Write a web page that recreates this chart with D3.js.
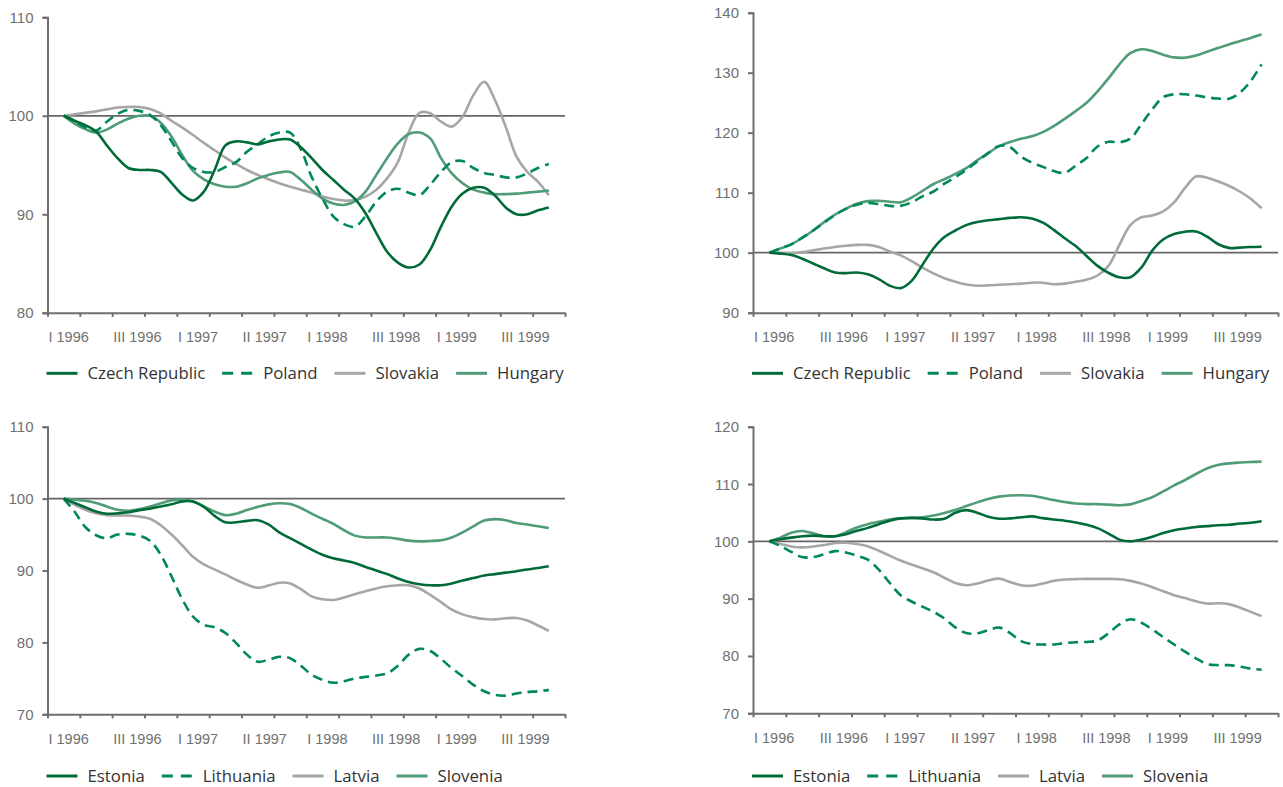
<!DOCTYPE html>
<html>
<head>
<meta charset="utf-8">
<script src="https://cdn.jsdelivr.net/npm/d3@7"></script>
<style>
body { margin: 0; background: #fff; }
svg { display: block; }
.ticklabel { font-family: "Liberation Sans", Arial, sans-serif; fill: #707070; }
.legend text { font-family: "Open Sans", sans-serif; font-size: 16.8px; fill: #333; }
</style>
</head>
<body>
<svg id="chart" width="1283" height="787"></svg>
<script>
// months Feb 1996 .. Nov 1999 (3-month centred averages), index 100 = start
var months = d3.timeMonth.range(new Date(1996, 1, 1), new Date(1999, 11, 1));
var quarterTicks = d3.range(0, 49, 3);
var xLabels = ["I 1996", "III 1996", "I 1997", "II 1997", "I 1998", "III 1998", "I 1999", "III 1999"];

// top left
var czechA = [100, 99.5, 99.05, 98.4, 97.0, 95.7, 94.7, 94.5, 94.5, 94.3, 93.2, 92.0, 91.4, 92.3, 94.5, 97.0, 97.4, 97.3, 97.1, 97.4, 97.6, 97.6, 96.8, 95.7, 94.5, 93.5, 92.5, 91.6, 90.1, 88.1, 86.2, 85.1, 84.6, 84.9, 86.4, 88.75, 90.8, 92.1, 92.7, 92.7, 91.9, 90.7, 90.0, 90.0, 90.4, 90.7];
var polandA = [100, 99.5, 98.8, 98.5, 99.4, 100.2, 100.6, 100.5, 100.1, 99.05, 97.4, 95.7, 94.7, 94.3, 94.3, 94.8, 95.3, 96.35, 97.1, 97.9, 98.3, 98.3, 96.6, 93.8, 91.6, 89.8, 89.0, 88.75, 89.8, 91.3, 92.3, 92.6, 92.2, 91.95, 93.0, 94.3, 95.3, 95.4, 94.7, 94.2, 94.0, 93.75, 93.75, 94.15, 94.7, 95.1];
var slovakiaA = [100, 100.15, 100.3, 100.45, 100.65, 100.85, 100.9, 100.9, 100.7, 100.25, 99.5, 98.8, 98.05, 97.25, 96.5, 95.75, 95.1, 94.5, 94.0, 93.55, 93.15, 92.8, 92.5, 92.2, 91.8, 91.55, 91.4, 91.45, 91.8, 92.5, 93.65, 95.3, 98.3, 100.3, 100.25, 99.4, 98.9, 99.9, 102.1, 103.45, 101.6, 98.9, 95.85, 94.3, 93.3, 91.95];
var hungaryA = [100, 99.2, 98.65, 98.3, 98.6, 99.2, 99.7, 100.0, 100.0, 99.3, 97.9, 96.0, 94.4, 93.55, 93.05, 92.8, 92.8, 93.15, 93.65, 94.0, 94.25, 94.3, 93.5, 92.5, 91.6, 91.1, 90.95, 91.3, 92.3, 94.0, 95.7, 97.2, 98.15, 98.3, 97.7, 95.7, 94.15, 93.15, 92.5, 92.2, 92.05, 92.05, 92.1, 92.2, 92.3, 92.4];

// top right
var czechB = [100, 99.85, 99.6, 99.0, 98.2, 97.4, 96.7, 96.6, 96.7, 96.4, 95.6, 94.5, 94.1, 95.3, 98.0, 100.7, 102.6, 103.7, 104.6, 105.1, 105.4, 105.6, 105.8, 105.9, 105.7, 105.0, 103.8, 102.4, 101.1, 99.45, 97.8, 96.65, 95.9, 95.9, 97.5, 100.35, 102.2, 103.1, 103.5, 103.55, 102.7, 101.45, 100.8, 100.85, 100.95, 101.0];
var polandB = [100, 100.7, 101.4, 102.5, 103.7, 105.0, 106.3, 107.3, 108.0, 108.3, 108.1, 107.8, 107.8, 108.4, 109.4, 110.2, 111.5, 112.6, 113.8, 115.2, 116.6, 117.8, 117.6, 116.0, 115.0, 114.3, 113.6, 113.3, 114.5, 115.8, 117.7, 118.5, 118.4, 119.0, 121.4, 123.9, 125.9, 126.4, 126.4, 126.2, 125.9, 125.7, 125.65, 126.65, 128.6, 131.4];
var slovakiaB = [100, 99.95, 99.9, 100.1, 100.4, 100.7, 100.95, 101.15, 101.3, 101.3, 100.95, 100.2, 99.55, 98.6, 97.5, 96.55, 95.75, 95.15, 94.7, 94.5, 94.55, 94.65, 94.75, 94.85, 95.0, 95.0, 94.75, 94.85, 95.15, 95.5, 96.2, 97.8, 101.3, 104.6, 105.9, 106.2, 106.9, 108.4, 110.8, 112.7, 112.5, 111.9, 111.15, 110.2, 109.0, 107.4];
var hungaryB = [100, 100.7, 101.4, 102.45, 103.7, 105.1, 106.35, 107.35, 108.15, 108.6, 108.65, 108.5, 108.4, 109.2, 110.3, 111.45, 112.25, 113.15, 114.1, 115.4, 116.6, 117.75, 118.45, 119.0, 119.4, 120.1, 121.1, 122.3, 123.6, 125.0, 126.9, 129.05, 131.4, 133.25, 133.9, 133.6, 133.0, 132.55, 132.5, 132.85, 133.5, 134.1, 134.7, 135.25, 135.8, 136.4];

// bottom left
var estoniaA = [100, 99.4, 98.8, 98.2, 97.9, 97.95, 98.1, 98.4, 98.6, 98.9, 99.2, 99.6, 99.6, 98.85, 97.6, 96.7, 96.7, 96.9, 97.0, 96.4, 95.3, 94.5, 93.7, 92.9, 92.2, 91.7, 91.4, 91.05, 90.5, 90.0, 89.5, 88.9, 88.4, 88.1, 87.95, 87.95, 88.2, 88.6, 88.95, 89.3, 89.5, 89.7, 89.9, 90.15, 90.35, 90.6];
var lithuaniaA = [100, 98.2, 96.05, 94.9, 94.5, 95.0, 95.1, 94.85, 94.15, 92.2, 89.2, 86.0, 83.6, 82.45, 82.1, 81.3, 79.9, 78.3, 77.3, 77.6, 78.0, 77.8, 76.75, 75.5, 74.8, 74.4, 74.6, 75.0, 75.2, 75.4, 75.7, 76.75, 78.3, 79.1, 78.8, 77.7, 76.4, 75.3, 74.1, 73.2, 72.7, 72.6, 72.9, 73.1, 73.2, 73.4];
var latviaA = [100, 99.15, 98.45, 97.95, 97.7, 97.65, 97.65, 97.5, 97.2, 96.3, 95.0, 93.5, 91.9, 90.85, 90.15, 89.45, 88.7, 88.05, 87.6, 87.9, 88.3, 88.2, 87.4, 86.4, 86.0, 85.9, 86.25, 86.7, 87.1, 87.5, 87.8, 87.95, 87.95, 87.5, 86.6, 85.6, 84.55, 83.9, 83.5, 83.25, 83.2, 83.35, 83.4, 83.05, 82.35, 81.6];
var sloveniaA = [100, 99.85, 99.7, 99.4, 98.9, 98.45, 98.3, 98.5, 98.9, 99.35, 99.75, 99.85, 99.6, 98.9, 98.2, 97.7, 97.9, 98.4, 98.85, 99.2, 99.35, 99.25, 98.7, 97.9, 97.2, 96.5, 95.6, 94.85, 94.6, 94.6, 94.6, 94.4, 94.15, 94.05, 94.1, 94.2, 94.6, 95.3, 96.15, 96.95, 97.15, 97.0, 96.6, 96.4, 96.15, 95.9];

// bottom right
var estoniaB = [100, 100.35, 100.65, 100.9, 101.0, 100.9, 100.9, 101.25, 101.85, 102.35, 103.0, 103.6, 104.0, 104.1, 104.0, 103.8, 103.95, 105.0, 105.45, 105.0, 104.3, 103.95, 104.0, 104.2, 104.35, 104.05, 103.8, 103.6, 103.3, 102.9, 102.3, 101.35, 100.3, 100.0, 100.3, 100.8, 101.45, 101.95, 102.25, 102.5, 102.65, 102.8, 102.9, 103.1, 103.25, 103.5];
var lithuaniaB = [100, 99.2, 98.15, 97.25, 97.25, 97.75, 98.3, 98.05, 97.5, 96.8, 95.05, 92.75, 90.6, 89.5, 88.6, 87.7, 86.55, 85.0, 84.0, 83.95, 84.5, 84.95, 84.0, 82.6, 82.1, 82.0, 82.0, 82.25, 82.4, 82.45, 82.7, 83.95, 85.5, 86.4, 85.8, 84.65, 83.3, 82.0, 80.75, 79.6, 78.6, 78.4, 78.4, 78.15, 77.8, 77.6];
var latviaB = [100, 99.55, 99.1, 98.95, 99.1, 99.35, 99.7, 99.75, 99.55, 99.15, 98.35, 97.5, 96.65, 95.95, 95.3, 94.6, 93.65, 92.75, 92.35, 92.65, 93.15, 93.5, 92.9, 92.35, 92.25, 92.65, 93.1, 93.35, 93.4, 93.45, 93.45, 93.45, 93.4, 93.1, 92.65, 92.0, 91.3, 90.6, 90.1, 89.55, 89.15, 89.2, 89.05, 88.45, 87.7, 86.95];
var sloveniaB = [100, 100.65, 101.5, 101.8, 101.4, 100.9, 100.85, 101.6, 102.4, 103.0, 103.4, 103.8, 104.0, 104.1, 104.2, 104.5, 104.95, 105.5, 106.15, 106.8, 107.4, 107.8, 108.0, 108.05, 107.95, 107.6, 107.2, 106.85, 106.6, 106.5, 106.5, 106.4, 106.3, 106.45, 107.05, 107.7, 108.7, 109.75, 110.7, 111.75, 112.7, 113.3, 113.6, 113.75, 113.85, 113.9];

var namesCE = ["Czech Republic", "Poland", "Slovakia", "Hungary"];
var namesBS = ["Estonia", "Lithuania", "Latvia", "Slovenia"];

var styles = [
  { color: "#006b38", dash: null },
  { color: "#00875a", dash: "10,6" },
  { color: "#a6a6a6", dash: null },
  { color: "#4f9c76", dash: null }
];
var drawOrder = [2, 3, 1, 0];

var panels = [
  { names: namesCE, series: [czechA, polandA, slovakiaA, hungaryA], yTicks: [80, 90, 100, 110], left: 47.5, right: 565, top: 17.3, bottom: 312.8, legendY: 373.3 },
  { names: namesCE, series: [czechB, polandB, slovakiaB, hungaryB], yTicks: [90, 100, 110, 120, 130, 140], left: 753, right: 1278, top: 12.7, bottom: 312.7, legendY: 373.3 },
  { names: namesBS, series: [estoniaA, lithuaniaA, latviaA, sloveniaA], yTicks: [70, 80, 90, 100, 110], left: 47.5, right: 565, top: 426.7, bottom: 714.3, legendY: 776 },
  { names: namesBS, series: [estoniaB, lithuaniaB, latviaB, sloveniaB], yTicks: [70, 80, 90, 100, 110, 120], left: 753, right: 1278, top: 426.7, bottom: 713.3, legendY: 776 }
];

var svg = d3.select("#chart");

panels.forEach(function (p) {
  var g = svg.append("g");

  var x = d3.scaleLinear().domain([0, 48]).range([p.left, p.right]);
  var y = d3.scaleLinear().domain(d3.extent(p.yTicks)).range([p.bottom, p.top]);
  var m0 = months[0].getMonth(); // first point month (Feb) -> index 1

  var line = d3.line()
    .x(function (d, i) { return x(m0 + i + 0.5); })
    .y(function (d) { return y(d); })
    .curve(d3.curveCatmullRom.alpha(0.5));

  // reference line at 100
  g.append("line")
    .attr("x1", p.left).attr("x2", p.right)
    .attr("y1", y(100)).attr("y2", y(100))
    .attr("stroke", "#666").attr("stroke-width", 1.8);

  drawOrder.forEach(function (k) {
    g.append("path")
      .datum(p.series[k])
      .attr("d", line)
      .attr("fill", "none")
      .attr("stroke", styles[k].color)
      .attr("stroke-width", 2.6)
      .attr("stroke-dasharray", styles[k].dash)
      .attr("stroke-linejoin", "round");
  });

  // y axis
  var yAxis = g.append("g")
    .attr("transform", "translate(" + p.left + ",0)")
    .call(d3.axisLeft(y).tickValues(p.yTicks).tickSize(5).tickFormat(""));
  yAxis.selectAll("line, path").attr("stroke", "#6e6e6e").attr("stroke-width", 2);

  g.append("g")
    .selectAll("text")
    .data(p.yTicks)
    .enter()
    .append("text")
    .attr("class", "ticklabel")
    .attr("x", p.left - 14)
    .attr("y", function (d) { return y(d) + 5.5; })
    .attr("text-anchor", "end")
    .style("font-size", "15px")
    .text(function (d) { return d; });

  // x axis
  var xAxis = g.append("g")
    .attr("transform", "translate(0," + p.bottom + ")")
    .call(d3.axisBottom(x).tickValues(quarterTicks).tickSize(4).tickSizeOuter(0).tickFormat(""));
  xAxis.selectAll("line, path").attr("stroke", "#6e6e6e").attr("stroke-width", 2);

  g.append("g")
    .selectAll("text")
    .data(xLabels)
    .enter()
    .append("text")
    .attr("class", "ticklabel")
    .attr("x", function (d, i) { return x(i * 6) + 1; })
    .attr("y", p.bottom + 29.5)
    .style("font-size", "14.5px")
    .text(function (d) { return d; });

  // legend
  var lg = g.append("g").attr("class", "legend");
  var cx = p.left - 1;
  p.names.forEach(function (name, k) {
    lg.append("line")
      .attr("x1", cx).attr("x2", cx + 31)
      .attr("y1", p.legendY).attr("y2", p.legendY)
      .attr("stroke", styles[k].color)
      .attr("stroke-width", 3)
      .attr("stroke-dasharray", styles[k].dash ? "11,8" : null);
    var t = lg.append("text")
      .attr("x", cx + 41)
      .attr("y", p.legendY + 5.8)
      .text(name);
    cx = cx + 41 + t.node().getComputedTextLength() + 17;
  });
});
</script>
</body>
</html>
